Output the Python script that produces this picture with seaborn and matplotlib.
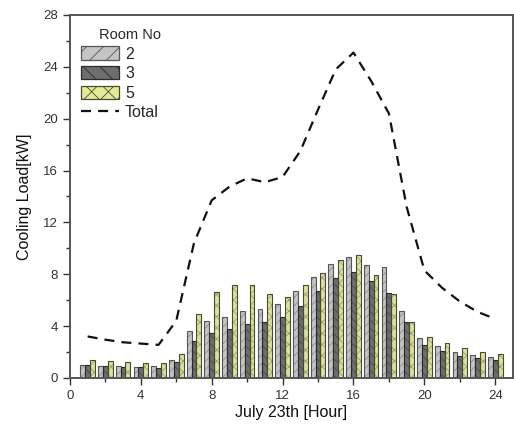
import numpy as np
import pandas as pd
import matplotlib
matplotlib.use("Agg")
import matplotlib.pyplot as plt
from matplotlib.patches import Rectangle, Patch
from matplotlib.lines import Line2D
import seaborn as sns

hours = list(range(1, 25))
room2 = [1.02, 0.95, 0.90, 0.87, 0.90, 1.38, 3.64, 4.38, 4.67, 5.15, 5.33, 5.72,
         6.67, 7.80, 8.80, 9.36, 8.72, 8.54, 5.20, 3.05, 2.44, 2.03, 1.77, 1.64]
room3 = [0.97, 0.92, 0.87, 0.85, 0.80, 1.26, 2.85, 3.49, 3.77, 4.13, 4.30, 4.67,
         5.56, 6.67, 7.70, 8.20, 7.44, 6.59, 4.30, 2.51, 2.05, 1.72, 1.51, 1.36]
room5 = [1.38, 1.28, 1.20, 1.15, 1.12, 1.82, 4.95, 6.60, 7.18, 7.18, 6.50, 6.28,
         7.15, 8.13, 9.08, 9.49, 7.92, 6.51, 4.30, 3.13, 2.69, 2.28, 2.03, 1.85]
total = [3.20, 2.95, 2.75, 2.65, 2.55, 4.40, 10.4, 13.7, 14.75, 15.4, 15.1, 15.5,
         17.5, 20.7, 23.8, 25.1, 22.9, 20.4, 13.2, 8.3, 6.95, 5.9, 5.1, 4.55]
rooms = ["2", "3", "5"]
xticks = [0, 4, 8, 12, 16, 20, 24]
yticks = [0, 4, 8, 12, 16, 20, 24, 28]

df = pd.DataFrame({
    "hour": hours * 3,
    "load": room2 + room3 + room5,
    "room": [r for r in rooms for _ in hours],
})

sns.set_style("white")
plt.rcParams["font.family"] = ["Liberation Sans", "DejaVu Sans"]
plt.rcParams["hatch.linewidth"] = 0.6

fig = plt.figure(figsize=(5.14, 4.28), dpi=100)
ax = fig.add_axes([0.136, 0.117, 0.862, 0.848])

face = {"2": "#c4c4c4", "3": "#6e6e6e", "5": "#e4ea96"}
hatchc = {"2": "#8c8c8c", "3": "#4a4a4a", "5": "#9aa060"}
hatches = {"2": "////", "3": "\\\\\\\\", "5": "xxx"}
outline = {"2": "#555555", "3": "#2a2a2a", "5": "#4a4a30"}

sns.barplot(data=df, x="hour", y="load", hue="room", hue_order=rooms,
            palette=face, native_scale=True, width=0.82, dodge=True,
            errorbar=None, ax=ax, legend=False)

bars = [p for p in ax.patches if isinstance(p, Rectangle)]
n = len(hours)
for i, p in enumerate(list(bars)):
    r = rooms[i // n]
    p.set_hatch(hatches[r])
    p.set_edgecolor(hatchc[r])
    p.set_linewidth(0)
    ax.add_patch(Rectangle(p.get_xy(), p.get_width(), p.get_height(),
                           fill=False, edgecolor=outline[r], linewidth=0.8, zorder=p.get_zorder() + 0.1))

sns.lineplot(x=hours, y=total, ax=ax, color="#111111", linewidth=1.6,
             linestyle=(0, (4.5, 3.2)), zorder=5)

ax.set_xlim(0, 25)
ax.set_ylim(0, 28)
ax.set_xticks(xticks)
ax.set_yticks(yticks)
ax.set_xticks([2, 6, 10, 14, 18, 22], minor=True)
ax.set_yticks([2, 6, 10, 14, 18, 22, 26], minor=True)
ax.tick_params(axis="both", which="major", direction="out", length=5, width=1,
               labelsize=9.5, colors="#333333", bottom=True, left=True)
ax.tick_params(axis="both", which="minor", direction="out", length=3, width=1,
               colors="#333333", bottom=True, left=True)
for s in ax.spines.values():
    s.set_color("#555555")
    s.set_linewidth(1.4)

ax.set_xlabel("July 23th [Hour]", fontsize=11.5, color="#111111", labelpad=2)
ax.set_ylabel("Cooling Load[kW]", fontsize=11.5, color="#111111", labelpad=8)

handles = []
for r in rooms:
    handles.append(Patch(facecolor=face[r], edgecolor=outline[r], hatch=hatches[r][:2], linewidth=0.9))
handles.append(Line2D([0], [0], color="#111111", linewidth=1.6, linestyle=(0, (4.5, 3.2))))
leg = ax.legend(handles, rooms + ["Total"], title="Room No", loc="upper left",
                bbox_to_anchor=(0.0, 0.995), frameon=False, fontsize=11.5,
                title_fontsize=10.5, handlelength=2.4, handleheight=0.9,
                handletextpad=0.35, labelspacing=0.28, borderaxespad=0.3)
leg._legend_box.align = "left"
leg.get_title().set_position((18, 0))

fig.savefig("out.png", dpi=100)
